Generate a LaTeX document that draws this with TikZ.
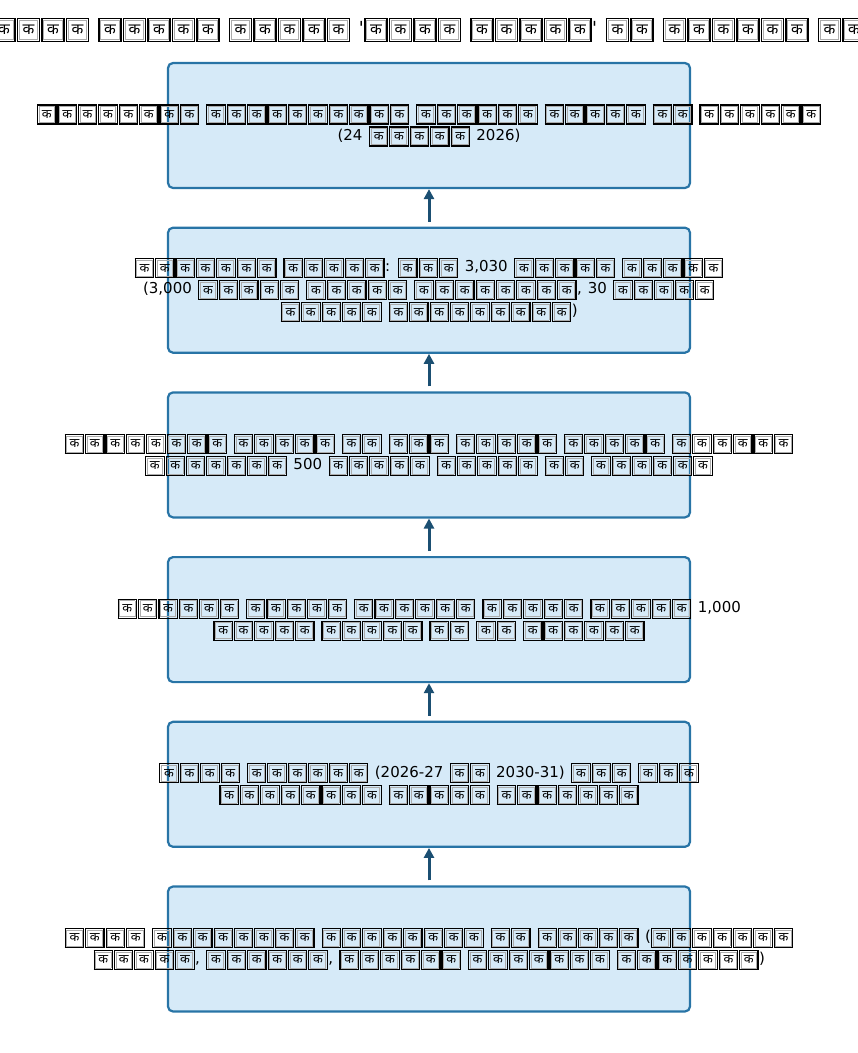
\documentclass[tikz,border=0pt]{standalone}
\usepackage{fontspec}
\setmainfont{DejaVu Sans}
\newfontfamily\devfont[Script=Devanagari,Scale=0.85]{Noto Sans}
\usetikzlibrary{arrows.meta, positioning}
\definecolor{boxfill}{HTML}{D6EAF8}
\definecolor{boxline}{HTML}{2874A6}
\definecolor{arrowcol}{HTML}{1B4F72}

% one missing-glyph box, and a word of #1 of them
\newcommand{\tofu}{\kern.03em\raisebox{-.26em}{\setlength{\fboxsep}{.035em}\setlength{\fboxrule}{.075em}\fbox{\color{gray!65}\setlength{\fboxsep}{0pt}\setlength{\fboxrule}{.05em}\fbox{\hbox to .98em{\hss\vbox to 1.02em{\vss\hbox{\color{black}\devfont क}\vss}\hss}}}}\kern.03em}
\newcommand{\kw}[1]{\foreach \n in {1,...,#1}{\tofu}}

\begin{document}
\begin{tikzpicture}[
    x=1pt, y=1pt,
    node distance=37.5pt,
    stage/.style={rectangle, draw=boxline, fill=boxfill, line width=2.2pt, rounded corners=5pt, minimum width=522pt, minimum height=125pt},
    stagetext/.style={align=center, inner sep=0pt, font={\fontsize{15}{22}\selectfont\spaceskip=.4em\relax}},
    arrow/.style={-{Triangle[length=10pt, width=10pt]}, line width=3pt, draw=arrowcol},
    heading/.style={font={\fontsize{18}{22}\selectfont\spaceskip=.45em\relax}},
]
\useasboundingbox (0,0) rectangle (858,-1053);

% title
\node[heading] (title) at (429,-30) {\kw{4} \kw{5} \kw{5} \textquotesingle\kw{4} \kw{5}\textquotesingle{} \kw{2} \kw{6} \kw{2}};

% stages, top to bottom
\node[stage] (launch) at (429,-125.5) {};
\node[stage, below=of launch] (capacity) {};
\node[stage, below=of capacity] (scheme) {};
\node[stage, below=of scheme] (target) {};
\node[stage, below=of target] (plan) {};
\node[stage, below=of plan] (base) {};

% texts (they run over the box edges)
\node[stagetext] (launch-text) at (launch) {\kw{8} \kw{10} \kw{6} \kw{5} \kw{2} \kw{6}\\(24 \kw{5} 2026)};
\node[stagetext] (capacity-text) at (capacity) {\kw{7} \kw{5}: \kw{3} 3,030 \kw{5} \kw{5}\\(3,000 \kw{5} \kw{5} \kw{8}, 30 \kw{5}\\\kw{5} \kw{9})};
\node[stagetext] (scheme-text) at (scheme) {\kw{8} \kw{5} \kw{2} \kw{3} \kw{5} \kw{5} \kw{6}\\\kw{7} 500 \kw{5} \kw{5} \kw{2} \kw{6}};
\node[stagetext] (target-text) at (target) {\kw{6} \kw{5} \kw{6} \kw{5} \kw{5} 1,000\\\kw{5} \kw{5} \kw{2} \kw{2} \kw{6}};
\node[stagetext] (plan-text) at (plan) {\kw{4} \kw{6} (2026-27 \kw{2} 2030-31) \kw{3} \kw{3}\\\kw{8} \kw{5} \kw{7}};
\node[stagetext] (base-text) at (base) {\kw{4} \kw{8} \kw{8} \kw{2} \kw{5} (\kw{7}\\\kw{5}, \kw{6}, \kw{6} \kw{7} \kw{7})};

% arrows, bottom to top
\draw[arrow] ([yshift=5pt]base.north) -- (plan.south);
\draw[arrow] ([yshift=5pt]plan.north) -- (target.south);
\draw[arrow] ([yshift=5pt]target.north) -- (scheme.south);
\draw[arrow] ([yshift=5pt]scheme.north) -- (capacity.south);
\draw[arrow] ([yshift=5pt]capacity.north) -- (launch.south);

\end{tikzpicture}
\end{document}
